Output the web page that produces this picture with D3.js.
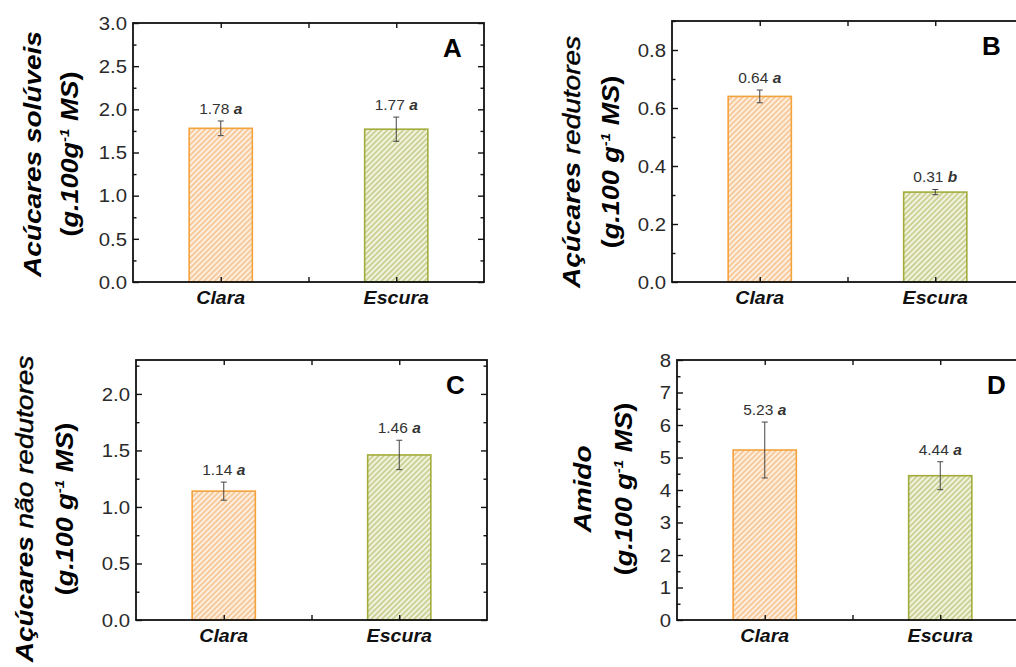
<!DOCTYPE html>
<html>
<head>
<meta charset="utf-8">
<script src="https://cdn.jsdelivr.net/npm/d3@7"></script>
<style>
  html, body { margin: 0; padding: 0; background: #fff; }
  svg { display: block; }
  text { font-family: "Liberation Sans", Arial, Helvetica, sans-serif; }
</style>
</head>
<body>
<svg id="chart" width="1016" height="667"></svg>
<script>
// Cultivar categories
const categories = ["Clara", "Escura"];

// A: soluble sugars (g.100g-1 DM)
const solubleMeans = [1.78, 1.77];
const solubleErrors = [0.085, 0.14];
const solubleLetters = ["a", "a"];
const solubleTicks = [0.0, 0.5, 1.0, 1.5, 2.0, 2.5, 3.0];

// B: reducing sugars
const reducingMeans = [0.64, 0.31];
const reducingErrors = [0.022, 0.009];
const reducingLetters = ["a", "b"];
const reducingTicks = [0.0, 0.2, 0.4, 0.6, 0.8];

// C: non-reducing sugars
const nonReducingMeans = [1.14, 1.46];
const nonReducingErrors = [0.08, 0.13];
const nonReducingLetters = ["a", "a"];
const nonReducingTicks = [0.0, 0.5, 1.0, 1.5, 2.0];

// D: starch
const starchMeans = [5.23, 4.44];
const starchErrors = [0.86, 0.43];
const starchLetters = ["a", "a"];
const starchTicks = [0, 1, 2, 3, 4, 5, 6, 7, 8];

const panels = [
  { id: "A", means: solubleMeans, errors: solubleErrors, letters: solubleLetters, ticks: solubleTicks,
    yMax: 3.0, minorStep: 0.25, fmt: d3.format(".1f"),
    box: { left: 133, top: 23, bottom: 282 },
    title: { l1: [["Acúcares solúveis", 700]], x1: 41, x2: 78, cy: 154, unitGap: "" } },
  { id: "B", means: reducingMeans, errors: reducingErrors, letters: reducingLetters, ticks: reducingTicks,
    yMax: 0.9, minorStep: 0.1, fmt: d3.format(".1f"),
    box: { left: 672, top: 21, bottom: 282 },
    title: { l1: [["Açúcares ", 700], ["redutores", 400]], x1: 580, x2: 619, cy: 162, unitGap: " " } },
  { id: "C", means: nonReducingMeans, errors: nonReducingErrors, letters: nonReducingLetters, ticks: nonReducingTicks,
    yMax: 2.3, minorStep: 0.25, fmt: d3.format(".1f"),
    box: { left: 136, top: 360, bottom: 620 },
    title: { l1: [["Açúcares ", 700], ["não redutores", 400]], x1: 33, x2: 73, cy: 509, unitGap: " " } },
  { id: "D", means: starchMeans, errors: starchErrors, letters: starchLetters, ticks: starchTicks,
    yMax: 8, minorStep: 0.5, fmt: d3.format("d"),
    box: { left: 677, top: 360, bottom: 620 },
    title: { l1: [["Amido", 700]], x1: 591, x2: 632, cy: 489, unitGap: " " } }
];

const plotWidth = 351;
const barWidthUnits = 0.36;
const palette = [
  { stroke: "#f4a23c", line: "#f4b474", bg: "#fdefdf" },
  { stroke: "#a2ac3c", line: "#b6be6c", bg: "#f1f3de" }
];

const svg = d3.select("#chart");
const defs = svg.append("defs");

// Diagonal hatch fills
palette.forEach((c, i) => {
  const s = 3.8;
  const p = defs.append("pattern")
    .attr("id", "hatch" + i)
    .attr("patternUnits", "userSpaceOnUse")
    .attr("width", s).attr("height", s)
    .attr("patternTransform", "rotate(45)");
  p.append("rect").attr("width", s).attr("height", s).attr("fill", c.bg);
  p.append("line").attr("x1", 1).attr("x2", 1).attr("y1", 0).attr("y2", s)
    .attr("stroke", c.line).attr("stroke-width", 1.2);
});

panels.forEach(pn => {
  const { left, top, bottom } = pn.box;
  const right = left + plotWidth;
  const g = svg.append("g");

  const x = d3.scaleLinear().domain([0.5, 2.5]).range([left, right]);
  const y = d3.scaleLinear().domain([0, pn.yMax]).range([bottom, top]);
  const positions = categories.map((_, i) => i + 1);
  const minor = d3.range(0, pn.yMax + 1e-9, pn.minorStep).filter(v => !pn.ticks.some(t => Math.abs(t - v) < 1e-9));

  // Bars
  g.selectAll("rect.bar").data(pn.means).join("rect")
    .attr("class", "bar")
    .attr("x", (d, i) => x(positions[i] - barWidthUnits / 2))
    .attr("width", (d, i) => x(positions[i] + barWidthUnits / 2) - x(positions[i] - barWidthUnits / 2))
    .attr("y", d => y(d))
    .attr("height", d => y(0) - y(d))
    .attr("fill", (d, i) => `url(#hatch${i})`)
    .attr("stroke", (d, i) => palette[i].stroke)
    .attr("stroke-width", 1.6);

  // Error bars with value labels
  pn.means.forEach((m, i) => {
    const cx = x(positions[i]);
    const e = pn.errors[i];
    const eg = g.append("g").attr("stroke", "#444").attr("stroke-width", 1);
    eg.append("line").attr("x1", cx).attr("x2", cx).attr("y1", y(m - e)).attr("y2", y(m + e));
    eg.append("line").attr("x1", cx - 3).attr("x2", cx + 3).attr("y1", y(m - e)).attr("y2", y(m - e));
    eg.append("line").attr("x1", cx - 3).attr("x2", cx + 3).attr("y1", y(m + e)).attr("y2", y(m + e));

    const t = g.append("text")
      .attr("x", cx).attr("y", y(m + e) - 7)
      .attr("text-anchor", "middle")
      .attr("font-size", 15.5).attr("fill", "#333");
    t.append("tspan").text(d3.format(".2f")(m) + " ");
    t.append("tspan").attr("font-weight", 700).attr("font-style", "italic").text(pn.letters[i]);
  });

  // Frame
  g.append("rect").attr("x", left).attr("y", top)
    .attr("width", right - left).attr("height", bottom - top)
    .attr("fill", "none").attr("stroke", "#111").attr("stroke-width", 1.8);

  // Inward ticks on all four sides
  const axL = d3.axisRight(y).tickValues(pn.ticks).tickSize(6).tickFormat("");
  const axLm = d3.axisRight(y).tickValues(minor).tickSize(3.5).tickFormat("");
  const axR = d3.axisLeft(y).tickValues(pn.ticks).tickSize(6).tickFormat("");
  const axRm = d3.axisLeft(y).tickValues(minor).tickSize(3.5).tickFormat("");
  const axT = d3.axisBottom(x).tickValues([1, 1.5, 2]).tickSize(5).tickFormat("");
  const axB = d3.axisTop(x).tickValues([1, 1.5, 2]).tickSize(5).tickFormat("");
  [[axL, left, 0], [axLm, left, 0], [axR, right, 0], [axRm, right, 0], [axT, 0, top], [axB, 0, bottom]]
    .forEach(([ax, tx, ty]) => {
      const a = g.append("g").attr("transform", `translate(${tx},${ty})`).call(ax);
      a.select(".domain").remove();
      a.selectAll("line").attr("stroke", "#111").attr("stroke-width", 1.4);
    });

  // Y tick labels (slightly wide glyphs)
  g.selectAll("text.ytl").data(pn.ticks).join("text")
    .attr("class", "ytl")
    .attr("transform", d => `translate(${left - 6},${y(d)}) scale(1.1,1)`)
    .attr("dy", "0.36em")
    .attr("text-anchor", "end")
    .attr("font-size", 18.5).attr("fill", "#2a2a2a")
    .text(pn.fmt);

  // Category labels
  g.selectAll("text.xtl").data(categories).join("text")
    .attr("class", "xtl")
    .attr("transform", (d, i) => `translate(${x(positions[i])},${bottom + 22}) scale(1.12,1)`)
    .attr("text-anchor", "middle")
    .attr("font-size", 17.5).attr("font-weight", 700).attr("font-style", "italic").attr("fill", "#111")
    .text(d => d);

  // Panel letter
  g.append("text").attr("x", left + 310).attr("y", top + 34)
    .attr("font-size", 26).attr("font-weight", 700).attr("fill", "#000")
    .text(pn.id);

  // Y-axis title (two lines), glyphs slightly narrowed across the line
  const tt = pn.title;
  const t1 = g.append("text")
    .attr("transform", `translate(${tt.x1},${tt.cy}) rotate(-90) scale(1,0.86)`)
    .attr("text-anchor", "middle").attr("font-size", 28).attr("font-style", "italic").attr("fill", "#000");
  tt.l1.forEach(([s, w]) => {
    const sp = t1.append("tspan").attr("font-weight", w).text(s);
    if (w < 700) sp.attr("stroke", "#000").attr("stroke-width", 0.5);
  });

  const t2 = g.append("text")
    .attr("transform", `translate(${tt.x2},${tt.cy}) rotate(-90) scale(1,0.86)`)
    .attr("text-anchor", "middle").attr("font-size", 27).attr("font-weight", 700).attr("fill", "#000");
  t2.append("tspan").attr("font-style", "normal").text("(");
  t2.append("tspan").attr("font-style", "italic").text("g.100" + tt.unitGap + "g");
  t2.append("tspan").attr("font-style", "italic").attr("font-size", 15).attr("dy", -11).text("-1");
  t2.append("tspan").attr("font-style", "italic").attr("dy", 11).text(" MS");
  t2.append("tspan").attr("font-style", "normal").text(")");
});
</script>
</body>
</html>
